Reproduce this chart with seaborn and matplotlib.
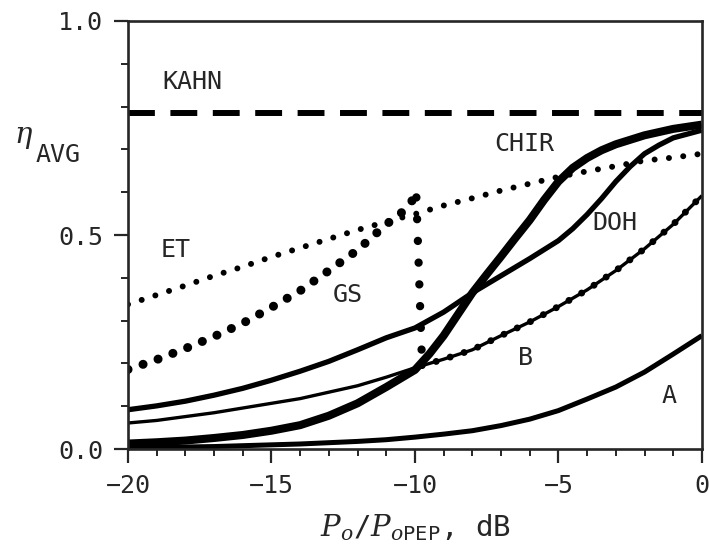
import pandas as pd
import seaborn as sns
import matplotlib.pyplot as plt
from matplotlib.ticker import MultipleLocator

# Estilo geral
sns.set_style("ticks")
plt.rcParams["font.family"] = ["DejaVu Sans Mono", "DejaVu Sans"]
plt.rcParams["mathtext.fontset"] = "custom"
plt.rcParams["mathtext.it"] = "DejaVu Serif:italic"
plt.rcParams["mathtext.rm"] = "DejaVu Sans Mono"

# Dados (Po/PoPEP em dB)
x_db = [-20, -19, -18, -17, -16, -15, -14, -13, -12, -11, -10,
        -9, -8, -7, -6, -5, -4, -3, -2, -1, 0]

eta_et = [0.338, 0.360, 0.382, 0.405, 0.426, 0.449, 0.470, 0.491, 0.512, 0.531, 0.549,
          0.569, 0.586, 0.604, 0.620, 0.636, 0.649, 0.661, 0.674, 0.681, 0.690]
eta_b = [0.061, 0.067, 0.076, 0.085, 0.096, 0.107, 0.118, 0.133, 0.148, 0.168, 0.190,
         0.210, 0.232, 0.265, 0.297, 0.333, 0.372, 0.417, 0.468, 0.525, 0.592]
eta_a = [0.003, 0.004, 0.005, 0.006, 0.008, 0.010, 0.012, 0.015, 0.018, 0.022, 0.028,
         0.035, 0.043, 0.055, 0.070, 0.090, 0.117, 0.145, 0.180, 0.222, 0.265]

chir_x = [-20, -19, -18, -17, -16, -15, -14, -13, -12, -11,
          -10, -9.5, -9, -8.5, -8, -7.5, -7, -6.5, -6, -5.5, -5, -4.5, -4, -3.5, -3,
          -2, -1, 0]
eta_chir = [0.013, 0.016, 0.020, 0.026, 0.033, 0.043, 0.056, 0.078, 0.107, 0.145,
            0.185, 0.222, 0.265, 0.315, 0.365, 0.408, 0.450, 0.493, 0.535, 0.582, 0.625,
            0.657, 0.680, 0.698, 0.712, 0.733, 0.748, 0.758]

doh_x = [-20, -19, -18, -17, -16, -15, -14, -13, -12, -11,
         -10, -9, -8, -7, -6, -5.5, -5, -4.5, -4, -3.5, -3, -2.5, -2, -1.5, -1, 0]
eta_doh = [0.092, 0.101, 0.112, 0.126, 0.142, 0.161, 0.182, 0.205, 0.232, 0.260,
           0.283, 0.320, 0.365, 0.405, 0.445, 0.466, 0.487, 0.515, 0.548, 0.585, 0.625,
           0.660, 0.690, 0.710, 0.727, 0.745]

kahn_x = [-20, 0]
kahn_y = [0.785, 0.785]

# GS: subida, queda vertical em -10 dB, depois segue a curva B
gs_rise_x = [-20, -19, -18, -17, -16, -15, -14, -13, -12, -11, -10.5, -10]
gs_rise_y = [0.186, 0.209, 0.235, 0.263, 0.294, 0.331, 0.370, 0.417, 0.465, 0.525, 0.550, 0.588]
gs_drop_x = [-9.95, -9.75]
gs_drop_y = [0.588, 0.195]
gs_tail_x = [-9.75, -9, -8, -7, -6, -5, -4, -3, -2, -1, 0]
gs_tail_y = [0.195, 0.210, 0.232, 0.265, 0.297, 0.333, 0.372, 0.417, 0.468, 0.525, 0.592]

rotulos = ["KAHN", "ET", "GS", "CHIR", "DOH", "B", "A"]
rot_x = [-17.75, -18.35, -12.35, -6.2, -3.05, -6.15, -1.15]
rot_y = [0.858, 0.464, 0.361, 0.713, 0.529, 0.212, 0.124]

fig = plt.figure(figsize=(7.09, 5.6), dpi=100)
ax = fig.add_axes([0.1805, 0.198, 0.8095, 0.7645])

def curva(x, y, **kw):
    d = pd.DataFrame({"x": x, "y": y})
    sns.lineplot(data=d, x="x", y="y", ax=ax, sort=False, estimator=None,
                 color="black", **kw)

curva(x_db, eta_a, linewidth=3.6, solid_capstyle="butt")
curva(x_db, eta_b, linewidth=2.4, solid_capstyle="butt")
curva(doh_x, eta_doh, linewidth=3.8, solid_capstyle="butt")
curva(chir_x, eta_chir, linewidth=5.8, solid_capstyle="butt")
curva(x_db, eta_et, linewidth=4.3, linestyle=(0, (0.01, 2.4)), dash_capstyle="round")
curva(gs_rise_x, gs_rise_y, linewidth=6.5, linestyle=(0, (0.01, 1.75)), dash_capstyle="round")
curva(gs_drop_x, gs_drop_y, linewidth=6.0, linestyle=(0, (0.01, 2.6)), dash_capstyle="round")
curva(gs_tail_x, gs_tail_y, linewidth=5.0, linestyle=(0, (0.01, 2.1)), dash_capstyle="round")
curva(kahn_x, kahn_y, linewidth=4.3, linestyle=(0, (4.5, 2.6)), dash_capstyle="butt")

for t, tx, ty in zip(rotulos, rot_x, rot_y):
    ax.text(tx, ty, t, fontsize=18, ha="center", va="center")

ax.set_xlim(-20, 0)
ax.set_ylim(0, 1.0)
ax.xaxis.set_major_locator(MultipleLocator(5))
ax.xaxis.set_minor_locator(MultipleLocator(1))
ax.yaxis.set_major_locator(MultipleLocator(0.5))
ax.yaxis.set_minor_locator(MultipleLocator(0.1))
ax.yaxis.set_major_formatter(plt.FormatStrFormatter("%.1f"))
ax.tick_params(which="major", length=10, width=1.6, labelsize=18, pad=8,
               direction="out", top=False, right=False)
ax.tick_params(which="minor", length=5, width=1.4, direction="out", top=False, right=False)
for s in ax.spines.values():
    s.set_visible(True)
    s.set_linewidth(1.9)

ax.set_xlabel(r"$P_o/P_{o\mathrm{PEP}}$, dB", fontsize=21, labelpad=10)
ax.set_ylabel("")

fig.text(24 / 709, 1 - 137 / 560, r"$\eta$", fontsize=21, ha="center", va="center")
fig.text(58 / 709, 1 - 155 / 560, "AVG", fontsize=18, ha="center", va="center")

fig.savefig("out.png", dpi=100)
